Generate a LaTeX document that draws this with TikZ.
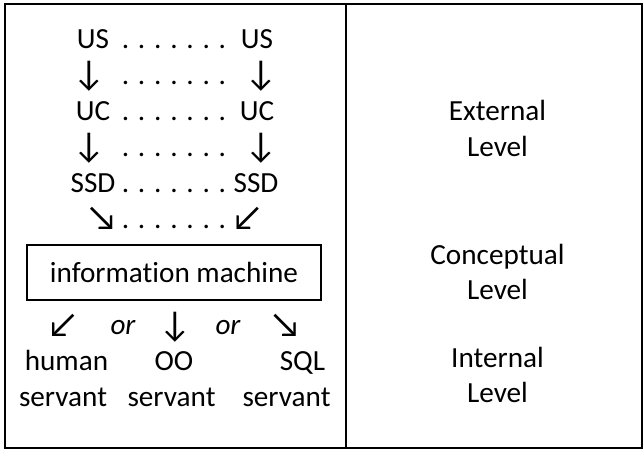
\documentclass[tikz,border=0pt]{standalone}
\usepackage{fontspec}
\setmainfont{Carlito}[Ligatures=NoCommon]
\usepackage{tikz}
\usetikzlibrary{positioning}

\begin{document}
\begin{tikzpicture}[
  x=0.75pt, y=-0.75pt,
  cell/.style={font=\fontsize{21.9}{26}\selectfont, anchor=base, inner sep=0pt},
  arr/.style={cell, font=\fontsize{27}{30}\selectfont},
  machine/.style={draw, line width=0.8pt, inner sep=0pt, minimum width=220.5pt, minimum height=41.25pt, font=\fontsize{21.9}{26}\selectfont},
  frame/.style={line width=1.5pt}
]
  \useasboundingbox (0,0) rectangle (644,452);

  % Table lines
  \draw[frame] (4.5,4.5) rectangle (641.5,448.5);
  \draw[frame] (345.5,4.5) -- (345.5,448.5);

  % External level: two chains
  \node[cell] (usL)  at (93,49)  {US};
  \node[cell] (dot1) at (174,49) {. . . . . . .};
  \node[cell] (usR)  at (257,49) {US};

  \node[arr]  (a1L)  at (89,86)  {↓};
  \node[cell] (dot2) at (174,85) {. . . . . . .};
  \node[arr]  (a1R)  at (261,86) {↓};

  \node[cell] (ucL)  at (93,121)  {UC};
  \node[cell] (dot3) at (174,121) {. . . . . . .};
  \node[cell] (ucR)  at (257,121) {UC};

  \node[arr]  (a2L)  at (89,158)  {↓};
  \node[cell] (dot4) at (174,157) {. . . . . . .};
  \node[arr]  (a2R)  at (261,158) {↓};

  \node[cell] (ssdL) at (93,193)  {SSD};
  \node[cell] (dot5) at (174,193) {. . . . . . .};
  \node[cell] (ssdR) at (256,193) {SSD};

  \node[arr]  (a3L)  at (102,230) {↘};
  \node[cell] (dot6) at (174,229) {. . . . . . .};
  \node[arr]  (a3R)  at (247,230) {↙};

  % Conceptual level
  \node[machine] (im) at (174,272.5) {information machine};

  % Internal level
  \node[arr]  (b1)  at (62.5,337) {↙};
  \node[cell] (or1) at (123,335)  {\itshape or};
  \node[arr]  (b2)  at (175,337)  {↓};
  \node[cell] (or2) at (228,335)  {\itshape or};
  \node[arr]  (b3)  at (285.5,337) {↘};

  \node[cell] (hum) at (66.5,371) {human};
  \node[cell] (oo)  at (174,371)  {OO};
  \node[cell] (sql) at (302.5,371) {SQL};

  \node[cell] (sv1) at (63,407)    {servant};
  \node[cell] (sv2) at (171.5,407) {servant};
  \node[cell] (sv3) at (286.5,407) {servant};

  % Level names
  \node[cell] (ext)  at (497.5,121) {External};
  \node[cell] (extL) at (497.5,157) {Level};
  \node[cell] (con)  at (497.5,265) {Conceptual};
  \node[cell] (conL) at (497.5,300) {Level};
  \node[cell] (int)  at (497.5,368) {Internal};
  \node[cell] (intL) at (497.5,403) {Level};
\end{tikzpicture}
\end{document}
